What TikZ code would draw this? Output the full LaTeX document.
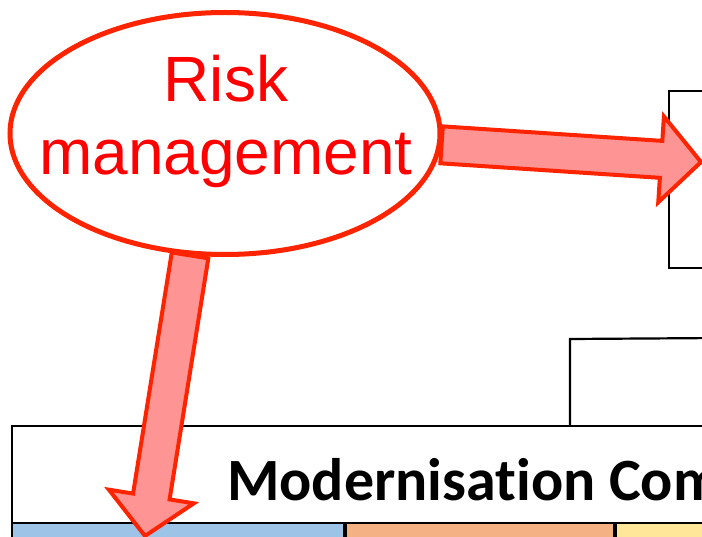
\documentclass[tikz,border=0pt]{standalone}
\usepackage{fontspec}
\usepackage{xcolor}
\usepackage{tikz}
\usetikzlibrary{shapes.geometric,calc}
\newfontfamily\riskfont{Liberation Sans}
\newfontfamily\boxfont[Ligatures=NoCommon]{Carlito}
\definecolor{riskred}{HTML}{FF2400}
\definecolor{riskfill}{HTML}{FF9494}
\definecolor{cellblue}{HTML}{9DC3E6}
\definecolor{cellorange}{HTML}{F4B183}
\definecolor{cellyellow}{HTML}{FFE699}

% fat outlined arrow from #1 to #2
\newcommand{\fatarrow}[2]{%
  \coordinate (#1base) at ($(#2)!40pt!(#1)$);
  \draw[fatarrow] ($(#1)!18.5pt!90:(#2)$) -- ($(#1base)!18.5pt!90:(#2)$)
    -- ($(#1base)!43pt!90:(#2)$) -- (#2) -- ($(#1base)!43pt!-90:(#2)$)
    -- ($(#1base)!18.5pt!-90:(#2)$) -- ($(#1)!18.5pt!-90:(#2)$) -- cycle;}

\begin{document}
\begin{tikzpicture}[x=1pt, y=-1pt,
    box/.style={shape=rectangle, draw, line width=2.2pt, inner sep=0pt, anchor=north west},
    cell/.style={box, minimum height=40pt},
    link/.style={line width=2.2pt},
    riskellipse/.style={shape=ellipse, draw=riskred, line width=5pt, fill=white,
      minimum width=430pt, minimum height=242pt, inner sep=0pt},
    risktext/.style={align=center, text=red, inner sep=0pt,
      font=\riskfont\fontsize{64}{73}\selectfont},
    fatarrow/.style={draw=riskred, fill=riskfill, line width=4pt, miter limit=4}]
    \useasboundingbox (0,0) rectangle (702,537);
    \clip (0,0) rectangle (702,537);
    \fill[white] (0,0) rectangle (702,537);

    \node[box, minimum width=200pt, minimum height=177pt] (plan) at (668,90) {};
    \node[box, minimum width=990pt, minimum height=97pt] (modern) at (11,425) {};
    \node[anchor=base west, inner sep=0pt, font=\boxfont\bfseries\fontsize{60}{66}\selectfont]
      (moderntitle) at (227,500) {Modernisation Com};
    \node[cell, fill=cellblue, minimum width=331.5pt] (cella) at (11,522) {};
    \node[cell, fill=cellorange, minimum width=268pt] (cellb) at (344.5,522) {};
    \node[cell, fill=cellyellow, minimum width=300pt] (cellc) at (614.5,522) {};

    \coordinate (bend) at (570,339);
    \coordinate (offright) at (720,338);
    \draw[link] (bend |- modern.north) -- (bend) -- (offright);

    \node[riskellipse] (risk) at (225,133.5) {};
    \node[risktext] (risklabel) at (226,121.8) {Risk\\management};

    \coordinate (rstart) at (risk.-3);
    \coordinate (rtip) at (701,162);
    \coordinate (dstart) at (risk.-106);
    \coordinate (dtip) at (145,536);
    \fatarrow{rstart}{rtip}
    \fatarrow{dstart}{dtip}
\end{tikzpicture}
\end{document}
